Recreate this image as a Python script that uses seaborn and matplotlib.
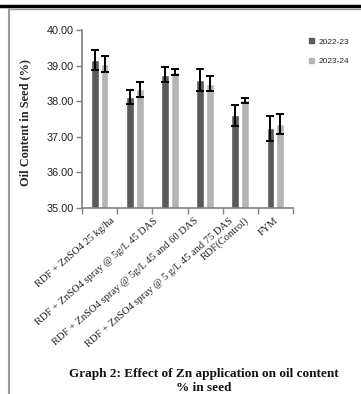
import matplotlib
matplotlib.use("Agg")
import matplotlib.pyplot as plt
import matplotlib.transforms as mtransforms
import seaborn as sns
import pandas as pd
import numpy as np
from matplotlib.lines import Line2D

categories = ["RDF + ZnSO4 25 kg/ha",
              "RDF + ZnSO4 spray @ 5g/L 45 DAS",
              "RDF + ZnSO4 spray @ 5g/L 45 and 60 DAS",
              "RDF + ZnSO4 spray @ 5 g/L 45 and 75 DAS",
              "RDF(Control)",
              "FYM"]
seasons = ["2022-23", "2023-24"]
oil_2022 = [39.17, 38.12, 38.75, 38.60, 37.60, 37.24]
oil_2023 = [39.05, 38.33, 38.82, 38.49, 38.02, 37.36]
err_2022 = [0.28, 0.20, 0.21, 0.31, 0.30, 0.35]
err_2023 = [0.23, 0.21, 0.08, 0.21, 0.08, 0.28]
yticks = [35.0, 36.0, 37.0, 38.0, 39.0, 40.0]
title = "Graph 2: Effect of Zn application on oil content\n% in seed"

df = pd.DataFrame({
    "cat": categories * 2,
    "season": [seasons[0]] * 6 + [seasons[1]] * 6,
    "oil": oil_2022 + oil_2023,
    "err": err_2022 + err_2023,
})

sns.set_theme(style="white")
plt.rcParams["font.family"] = ["Liberation Sans", "DejaVu Sans"]

fig = plt.figure(figsize=(3.61, 3.94), dpi=100)
ax = fig.add_axes([82/361, 1-208/394, (293-82)/361, (208-30)/394])

palette = {"2022-23": "#5a5a5a", "2023-24": "#b4b4b4"}
sns.barplot(data=df, x="cat", y="oil", hue="season", palette=palette,
            width=0.56, gap=0.2, errorbar=None, ax=ax, legend=False,
            order=categories, hue_order=seasons, saturation=1)

n = len(categories)
for i, p in enumerate(ax.patches[:2*n]):
    level = i // n
    ci = i % n
    e = (err_2022 if level == 0 else err_2023)[ci]
    xc = p.get_x() + p.get_width()/2
    ax.errorbar(xc, p.get_height(), yerr=e, fmt="none", ecolor="black",
                elinewidth=1.4, capsize=3, capthick=1.4, zorder=5)

ax.set_ylim(35, 40)
ax.set_xlim(-0.5, n - 0.5)
ax.set_yticks(yticks)
ax.set_yticklabels([f"{v:.2f}" for v in yticks], fontsize=7.8, color="#222222")
ax.set_xticks(range(n))
ax.set_xticklabels([])
ax.set_xticks(np.arange(-0.5, n, 1.0), minor=True)
ax.tick_params(axis="x", which="major", length=0)
ax.tick_params(axis="x", which="minor", length=4, width=1, color="#808080", direction="out", bottom=True)
ax.tick_params(axis="y", length=4, width=1, color="#808080", direction="out", left=True, pad=2)
ax.set_xlabel("")
ax.set_ylabel("Oil Content in Seed (%)", fontsize=8.8, fontweight="bold",
              family="Liberation Serif")
ax.yaxis.set_label_coords(-0.24, 0.48)
for s in ["top", "right"]:
    ax.spines[s].set_visible(False)
for s in ["left", "bottom"]:
    ax.spines[s].set_color("#808080")
    ax.spines[s].set_linewidth(1.2)

# category labels, Excel-like placement (longer labels shifted right)
renderer = fig.canvas.get_renderer()
blend = mtransforms.blended_transform_factory(ax.transData, fig.transFigure)
for i, lab in enumerate(categories):
    t = fig.text(0, 0, lab, fontsize=7.6, family="Liberation Serif", color="#222222")
    L = t.get_window_extent(renderer).width
    t.remove()
    off = mtransforms.ScaledTranslation((0.15 * L - 4.5) / 100, 0, fig.dpi_scale_trans)
    ax.text(i, 1 - 216/394, lab, transform=blend + off, rotation=41,
            rotation_mode="anchor", ha="right", va="top", fontsize=7.6,
            family="Liberation Serif", color="#222222")

handles = [plt.Rectangle((0, 0), 1, 1, color=palette[s]) for s in seasons]
fig.legend(handles, seasons, loc="upper left", bbox_to_anchor=(305/361, 1-34/394),
           frameon=False, fontsize=6, handlelength=0.6, handleheight=0.6,
           handletextpad=0.5, labelspacing=1.45, borderpad=0)

fig.text(204/361, 1-381/394, title, ha="center", va="center", fontsize=9.5,
         fontweight="bold", family="Liberation Serif", color="#111111",
         linespacing=1.2)

fig.add_artist(Line2D([0, 1], [1-5.5/394, 1-5.5/394], color="black", lw=2.5, transform=fig.transFigure))
fig.add_artist(Line2D([9/361, 1], [1-9/394, 1-9/394], color="#9a9a9a", lw=1.0, transform=fig.transFigure))
fig.add_artist(Line2D([9/361, 9/361], [0, 1-9/394], color="#9a9a9a", lw=1.5, transform=fig.transFigure))

fig.savefig("out.png", dpi=100)
